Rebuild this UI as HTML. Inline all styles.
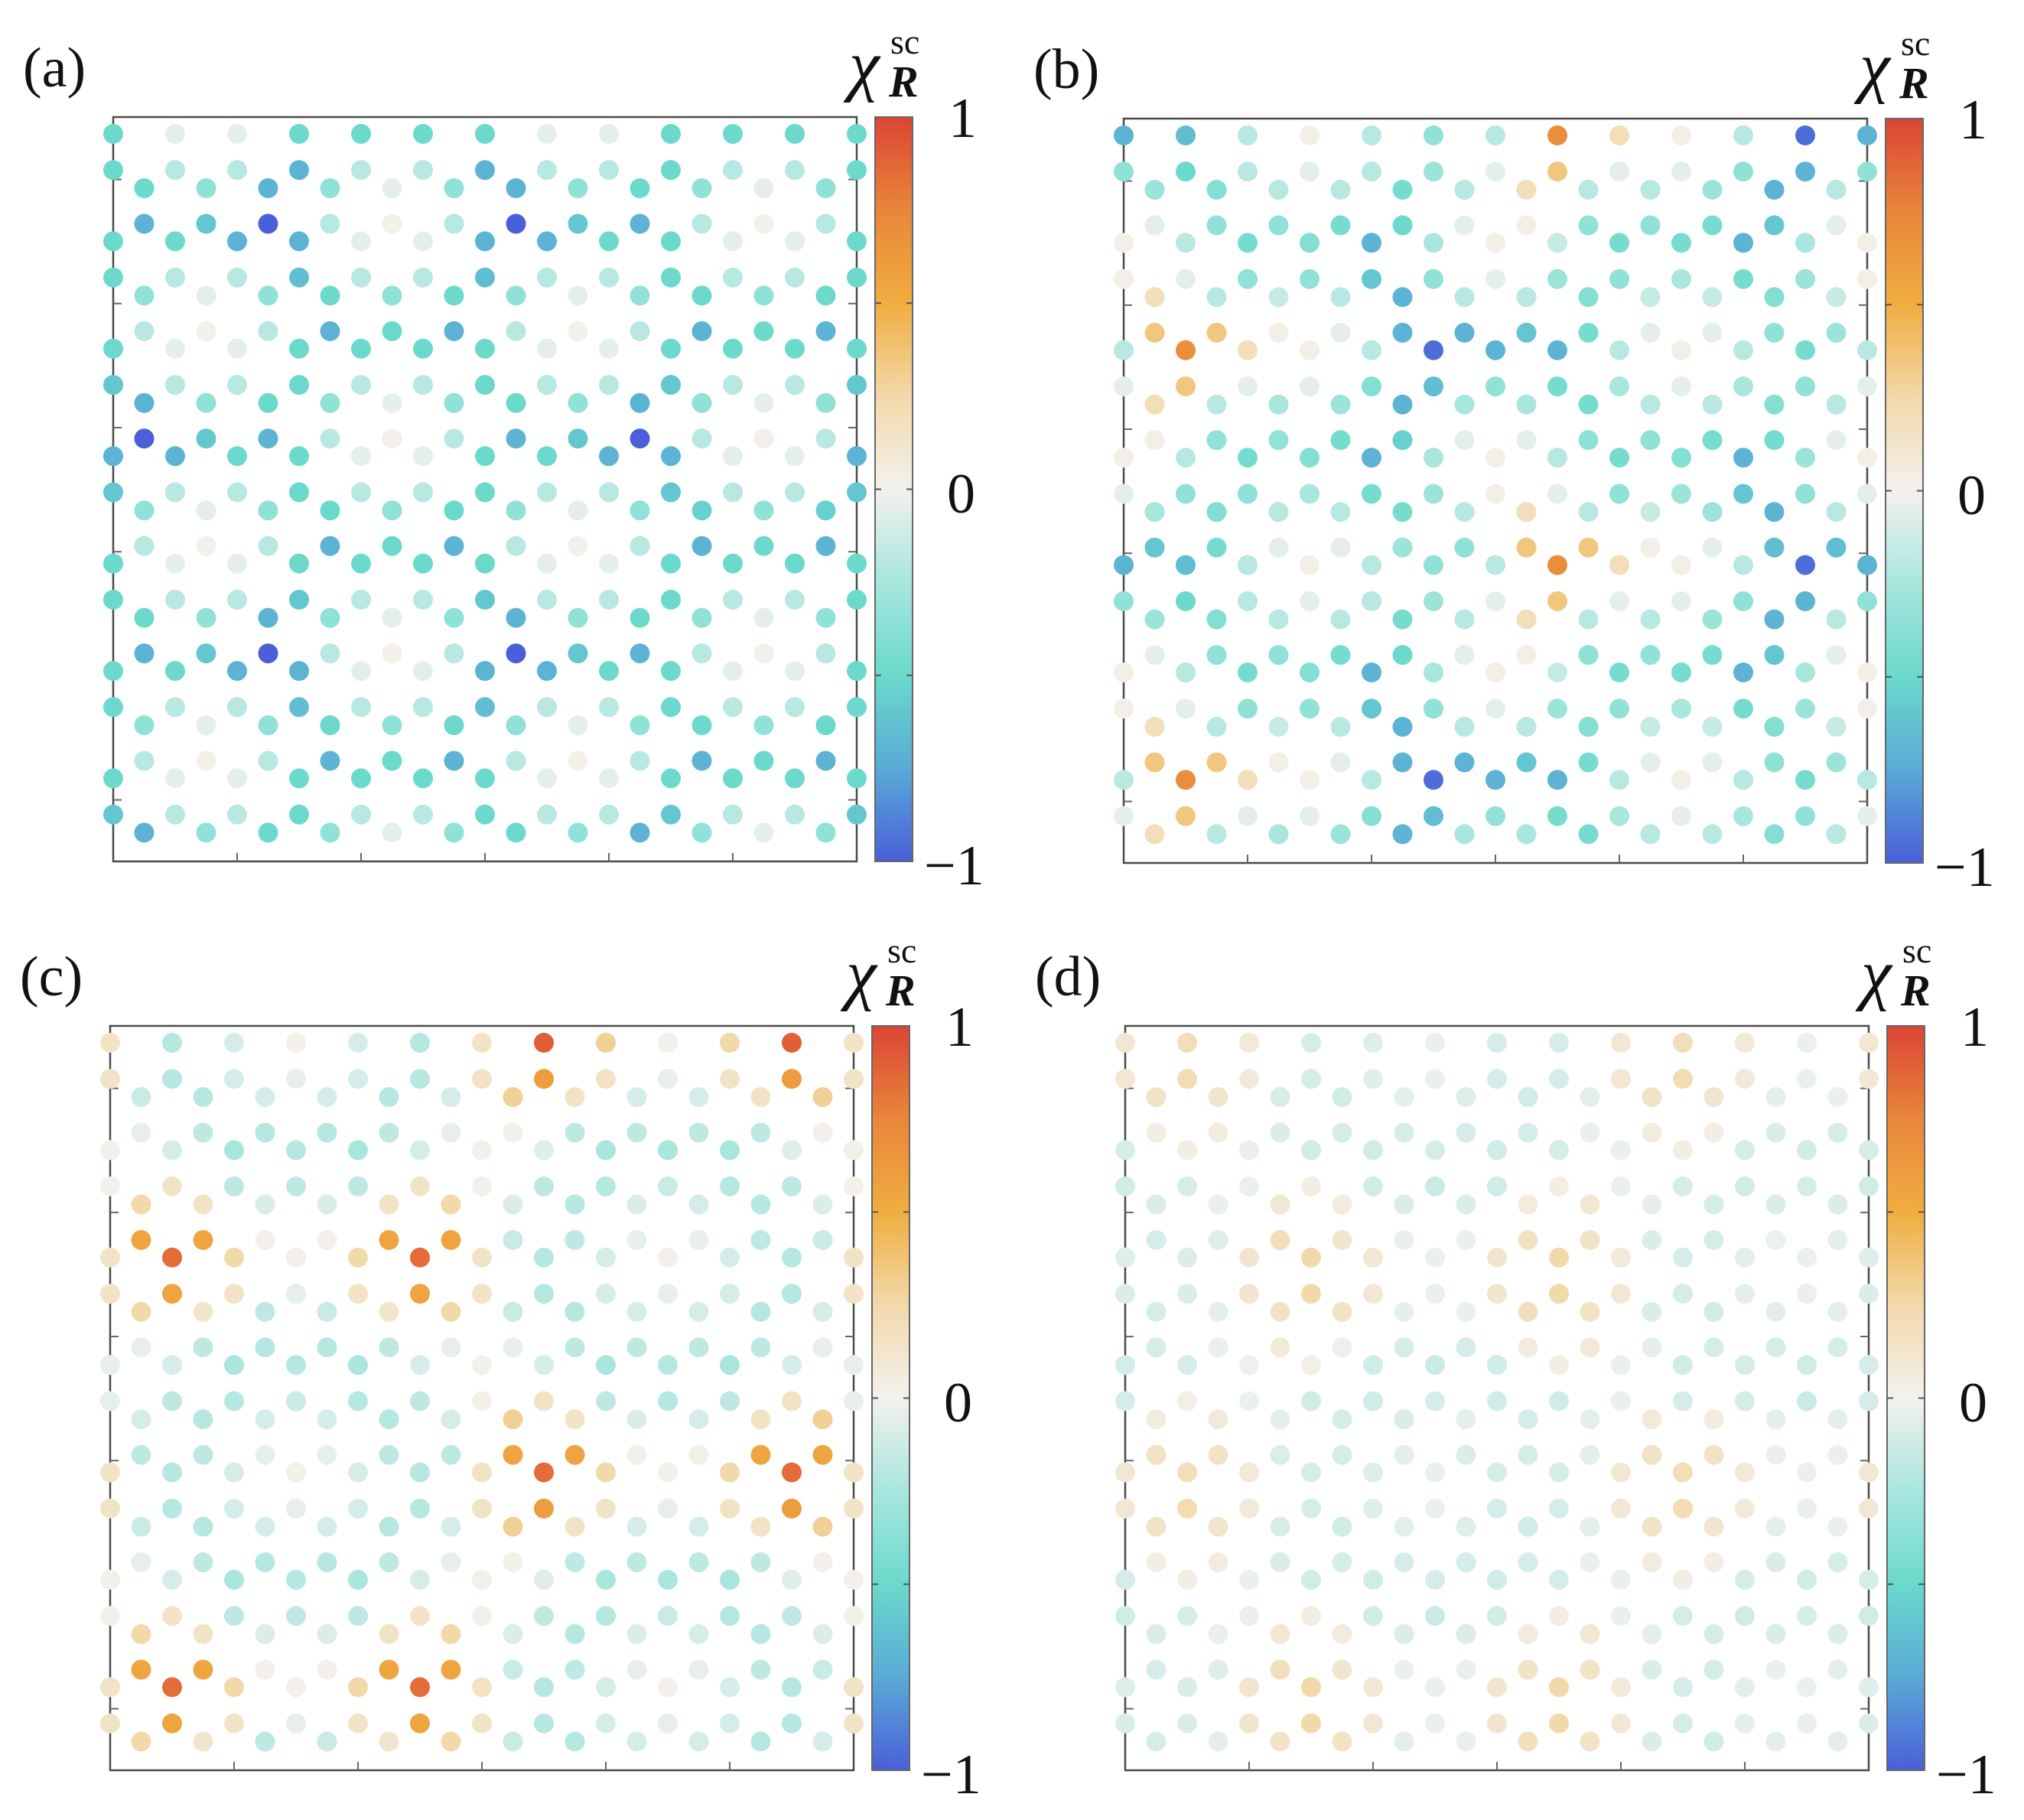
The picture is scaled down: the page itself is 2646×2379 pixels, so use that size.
<!DOCTYPE html>
<html><head><meta charset="utf-8"><style>
html,body{margin:0;padding:0;background:#fff}
svg{display:block}
text{font-family:"Liberation Serif",serif;fill:#111}
</style></head><body>
<svg id="fig" xmlns="http://www.w3.org/2000/svg" width="2646" height="2379" viewBox="0 0 2646 2379">
<defs>
<linearGradient id="cmap" x1="0" y1="1" x2="0" y2="0">
<stop offset="0" stop-color="#4a5fd9"/><stop offset="0.125" stop-color="#5aaad6"/>
<stop offset="0.25" stop-color="#6bd9cc"/><stop offset="0.375" stop-color="#a8e6de"/>
<stop offset="0.5" stop-color="#f3f1ee"/><stop offset="0.625" stop-color="#f2d9aa"/>
<stop offset="0.75" stop-color="#f0ad40"/><stop offset="0.875" stop-color="#e8863a"/>
<stop offset="1" stop-color="#dc4535"/>
</linearGradient>
</defs>
<g id="layer"></g>
</svg>
<script>
const panelLabels = ["(a)","(b)","(c)","(d)"];
const colorbarTicks = ["1","0","\u22121"];
const A = [
[-.5,-.05,-.05,-.5,-.5,-.5,-.5,-.05,-.05,-.5,-.5,-.5,-.5],
[-.5,-.2,-.2,-.7,-.2,-.2,-.7,-.2,-.2,-.5,-.2,-.2,-.5],
[-.5,-.35,-.7,-.35,-.05,-.35,-.7,-.35,-.5,-.35,-.05,-.35],
[-.7,-.6,-1,-.2,.02,-.2,-1,-.6,-.7,-.2,.02,-.2],
[-.5,-.5,-.7,-.7,-.05,-.05,-.7,-.7,-.5,-.5,-.05,-.05,-.5],
[-.5,-.2,-.2,-.65,-.2,-.2,-.65,-.2,-.2,-.5,-.2,-.2,-.5],
[-.35,-.05,-.35,-.5,-.35,-.5,-.35,-.05,-.35,-.5,-.35,-.5],
[-.2,.02,-.2,-.7,-.5,-.7,-.2,.02,-.2,-.7,-.5,-.7],
[-.5,-.05,-.05,-.5,-.5,-.5,-.5,-.05,-.05,-.5,-.5,-.5,-.5],
[-.6,-.2,-.2,-.5,-.2,-.2,-.5,-.2,-.2,-.6,-.2,-.2,-.6],
[-.7,-.35,-.5,-.35,-.05,-.35,-.5,-.35,-.7,-.35,-.05,-.35],
[-1,-.6,-.7,-.2,.02,-.2,-.7,-.6,-1,-.2,.02,-.2],
[-.7,-.7,-.5,-.5,-.05,-.05,-.5,-.5,-.7,-.7,-.05,-.05,-.7],
[-.6,-.2,-.2,-.5,-.2,-.2,-.5,-.2,-.2,-.6,-.2,-.2,-.6],
[-.35,-.05,-.35,-.5,-.35,-.5,-.35,-.05,-.35,-.55,-.35,-.55],
[-.2,.02,-.2,-.7,-.5,-.7,-.2,.02,-.2,-.7,-.5,-.7],
[-.5,-.05,-.05,-.5,-.5,-.5,-.5,-.05,-.05,-.5,-.5,-.5,-.5],
[-.5,-.2,-.2,-.6,-.2,-.2,-.6,-.2,-.2,-.5,-.2,-.2,-.5],
[-.5,-.35,-.7,-.35,-.05,-.35,-.7,-.35,-.5,-.35,-.05,-.35],
[-.7,-.6,-1,-.2,.02,-.2,-1,-.6,-.7,-.2,.02,-.2],
[-.5,-.5,-.7,-.7,-.05,-.05,-.7,-.7,-.5,-.5,-.05,-.05,-.5],
[-.5,-.2,-.2,-.65,-.2,-.2,-.65,-.2,-.2,-.5,-.2,-.2,-.5],
[-.35,-.05,-.35,-.5,-.35,-.5,-.35,-.05,-.35,-.5,-.35,-.5],
[-.2,.02,-.2,-.7,-.5,-.7,-.2,.02,-.2,-.7,-.5,-.7],
[-.5,-.05,-.05,-.5,-.5,-.5,-.5,-.05,-.05,-.5,-.5,-.5,-.5],
[-.6,-.2,-.2,-.5,-.2,-.2,-.5,-.2,-.2,-.6,-.2,-.2,-.6],
[-.7,-.35,-.5,-.35,-.05,-.35,-.5,-.35,-.7,-.35,-.05,-.35]
];
const B = [
[-.7,-.65,-.2,.03,-.2,-.35,-.2,.7,.2,.03,-.2,-.95,-.7],
[-.35,-.5,-.2,-.05,-.2,-.3,-.05,.35,-.05,-.05,-.35,-.7,-.35],
[-.3,-.4,-.2,-.2,-.45,-.2,.2,-.2,-.2,-.3,-.7,-.2],
[-.05,-.35,-.35,-.45,-.5,-.05,.03,-.35,-.35,-.45,-.6,-.05],
[.03,-.2,-.45,-.4,-.7,-.25,.03,-.15,-.45,-.45,-.7,-.25,.03],
[.03,-.05,-.35,-.35,-.6,-.35,-.05,-.3,-.35,-.25,-.45,-.3,.03],
[.2,-.2,-.15,-.2,-.7,-.2,-.2,-.4,-.15,-.15,-.4,-.15],
[.35,.35,.03,-.05,-.7,-.7,-.6,-.45,-.05,-.05,-.35,-.3],
[-.2,.7,.2,.03,-.2,-.95,-.7,-.7,-.2,.03,-.2,-.45,-.2],
[-.05,.35,-.05,-.05,-.4,-.65,-.35,-.45,-.25,-.05,-.25,-.35,-.05],
[.2,-.2,-.25,-.3,-.7,-.25,-.25,-.45,-.2,-.2,-.4,-.2],
[.03,-.35,-.35,-.45,-.55,-.05,-.05,-.35,-.35,-.45,-.45,-.05],
[.03,-.2,-.45,-.4,-.7,-.25,.03,-.2,-.45,-.4,-.7,-.3,.03],
[-.05,-.35,-.35,-.25,-.45,-.3,.03,-.05,-.35,-.3,-.6,-.35,-.05],
[-.25,-.4,-.2,-.2,-.45,-.2,.2,-.2,-.15,-.3,-.7,-.2],
[-.6,-.45,-.05,-.05,-.3,-.35,.35,.35,.03,-.05,-.65,-.65],
[-.7,-.65,-.2,.03,-.2,-.35,-.2,.7,.2,.03,-.2,-.95,-.7],
[-.35,-.5,-.2,-.05,-.2,-.3,-.05,.35,-.05,-.05,-.35,-.7,-.35],
[-.3,-.4,-.2,-.2,-.45,-.2,.2,-.2,-.2,-.3,-.7,-.2],
[-.05,-.35,-.35,-.45,-.5,-.05,.03,-.35,-.35,-.45,-.6,-.05],
[.03,-.2,-.45,-.4,-.7,-.25,.03,-.15,-.45,-.45,-.7,-.25,.03],
[.03,-.05,-.35,-.35,-.6,-.35,-.05,-.3,-.35,-.25,-.45,-.3,.03],
[.2,-.2,-.15,-.2,-.7,-.2,-.2,-.4,-.15,-.15,-.4,-.15],
[.35,.35,.03,-.05,-.7,-.7,-.6,-.45,-.05,-.05,-.35,-.3],
[-.2,.7,.2,.03,-.2,-.95,-.7,-.7,-.2,.03,-.2,-.45,-.2],
[-.05,.35,-.05,-.05,-.4,-.65,-.35,-.45,-.25,-.05,-.25,-.35,-.05],
[.2,-.2,-.25,-.3,-.7,-.25,-.25,-.45,-.2,-.2,-.4,-.2]
];
const C = [
[.15,-.21,-.1,.02,-.1,-.21,.15,.9,.3,.02,.25,.9,.15],
[.15,-.21,-.1,-.04,-.1,-.21,.15,.6,.15,-.04,.15,.6,.15],
[-.14,-.21,-.1,-.1,-.21,-.1,.3,.15,-.1,-.1,.15,.3],
[-.04,-.18,-.21,-.21,-.18,-.04,.02,-.18,-.18,-.18,-.18,.02],
[.02,-.1,-.25,-.21,-.25,-.1,.02,-.07,-.25,-.25,-.25,-.07,.02],
[.02,.15,-.18,-.18,-.18,.15,.02,-.18,-.21,-.14,-.21,-.18,.02],
[.25,.15,-.08,-.08,.15,.25,-.08,-.21,-.08,-.1,-.21,-.08],
[.55,.55,.02,.02,.55,.55,-.14,-.18,-.04,-.04,-.18,-.14],
[.15,.85,.25,.02,.25,.85,.15,-.21,-.1,.02,-.1,-.21,.15],
[.15,.55,.15,-.04,.15,.55,.15,-.21,-.1,-.04,-.1,-.21,.15],
[.25,.12,-.18,-.14,.12,.25,-.14,-.21,-.1,-.1,-.21,-.1],
[-.04,-.18,-.21,-.21,-.18,-.04,-.04,-.18,-.18,-.18,-.18,-.04],
[-.04,-.1,-.25,-.21,-.25,-.1,.02,-.1,-.25,-.21,-.25,-.1,-.04],
[-.04,-.18,-.21,-.14,-.21,-.18,.02,.15,-.18,-.21,-.18,.15,-.04],
[-.1,-.21,-.1,-.1,-.21,-.1,.3,.15,-.08,-.1,.15,.3],
[-.18,-.18,-.04,-.04,-.18,-.18,.55,.55,.02,.02,.55,.55],
[.15,-.21,-.1,.02,-.1,-.21,.15,.85,.25,.02,.25,.85,.15],
[.15,-.21,-.1,-.04,-.1,-.21,.15,.6,.15,-.04,.15,.6,.15],
[-.14,-.21,-.1,-.1,-.21,-.1,.3,.15,-.1,-.1,.15,.3],
[-.04,-.18,-.21,-.21,-.18,-.04,.02,-.18,-.18,-.18,-.18,.02],
[.02,-.1,-.25,-.21,-.25,-.1,.02,-.07,-.25,-.25,-.25,-.07,.02],
[.02,.15,-.18,-.18,-.18,.15,.02,-.18,-.21,-.14,-.21,-.18,.02],
[.25,.15,-.08,-.08,.15,.25,-.08,-.21,-.08,-.1,-.21,-.08],
[.55,.55,.02,.02,.55,.55,-.14,-.18,-.04,-.04,-.18,-.14],
[.15,.85,.25,.02,.25,.85,.15,-.21,-.1,.02,-.1,-.21,.15],
[.15,.55,.15,-.04,.15,.55,.15,-.21,-.1,-.04,-.1,-.21,.15],
[.25,.12,-.18,-.14,.12,.25,-.14,-.21,-.1,-.1,-.21,-.1]
];
const D = [
[.1,.2,.08,-.1,-.07,-.03,-.1,-.1,.1,.2,.08,-.03,.1],
[.1,.22,.08,-.1,-.07,-.03,-.1,-.1,.1,.22,.08,-.03,.1],
[.15,.12,-.1,-.12,-.05,-.07,-.12,-.05,.15,.12,-.05,-.03],
[.04,.06,-.08,-.1,-.1,-.1,-.1,-.03,.06,.04,-.08,-.1],
[-.1,.04,-.03,-.12,-.12,-.1,-.12,-.1,-.03,.04,-.1,-.12,-.1],
[-.12,-.1,-.03,.04,-.12,-.14,-.12,.04,-.03,-.1,-.12,-.1,-.12],
[-.08,-.03,.1,.06,-.08,-.08,.06,.1,-.05,-.1,-.08,-.08],
[-.1,-.07,.2,.12,-.03,-.03,.15,.15,-.08,-.1,-.03,-.05],
[-.07,-.08,.12,.25,.1,-.03,.12,.25,.08,-.1,-.05,-.03,-.07],
[-.08,-.08,.12,.25,.1,-.03,.12,.25,.1,-.1,-.05,-.03,-.08],
[-.1,-.05,.15,.15,-.05,-.03,.18,.15,-.08,-.12,-.05,-.05],
[-.1,-.03,.08,-.02,-.1,-.1,.06,.08,-.05,-.1,-.1,-.1],
[-.1,-.1,-.02,.03,-.12,-.14,-.12,.04,-.03,-.12,-.1,-.12,-.1],
[-.1,.03,-.03,-.12,-.12,-.1,-.12,-.12,-.03,-.1,-.1,-.14,-.1],
[.06,.08,-.05,-.1,-.08,-.05,-.1,-.05,.08,.06,-.05,-.05],
[.15,.15,-.08,-.1,-.05,-.08,-.1,-.05,.15,.15,-.03,-.03],
[.1,.2,.08,-.1,-.07,-.03,-.1,-.1,.1,.2,.08,-.03,.1],
[.1,.22,.08,-.1,-.07,-.03,-.1,-.1,.1,.22,.08,-.03,.1],
[.15,.12,-.1,-.12,-.05,-.07,-.12,-.05,.15,.12,-.05,-.03],
[.04,.06,-.08,-.1,-.1,-.1,-.1,-.03,.06,.04,-.08,-.1],
[-.1,.04,-.03,-.12,-.12,-.1,-.12,-.1,-.03,.04,-.1,-.12,-.1],
[-.12,-.1,-.03,.04,-.12,-.14,-.12,.04,-.03,-.1,-.12,-.1,-.12],
[-.08,-.03,.1,.06,-.08,-.08,.06,.1,-.05,-.1,-.08,-.08],
[-.1,-.07,.2,.12,-.03,-.03,.15,.15,-.08,-.1,-.03,-.05],
[-.07,-.08,.12,.25,.1,-.03,.12,.25,.08,-.1,-.05,-.03,-.07],
[-.08,-.08,.12,.25,.1,-.03,.12,.25,.1,-.1,-.05,-.03,-.08],
[-.1,-.05,.15,.15,-.05,-.03,.18,.15,-.08,-.12,-.05,-.05]
];
const panelData = [A,B,C,D];

const NS = "http://www.w3.org/2000/svg";
const layer = document.getElementById("layer");
const panels = [{L:148,T:153,id:"a"},{L:1469,T:155,id:"b"},{L:144,T:1341,id:"c"},{L:1471,T:1341,id:"d"}];
const W = 972, H = 973;
const stops = [[-1,[74,95,217]],[-.75,[90,170,214]],[-.5,[107,217,204]],[-.25,[168,230,222]],[0,[243,241,238]],[.25,[242,217,170]],[.5,[240,173,64]],[.75,[232,134,58]],[1,[220,69,53]]];
function cmap(v){
  v=Math.max(-1,Math.min(1,v));
  for(let i=0;i<stops.length-1;i++){
    const a=stops[i],b=stops[i+1];
    if(v<=b[0]){const t=(v-a[0])/(b[0]-a[0]);
      const c=a[1].map((x,k)=>Math.round(x+(b[1][k]-x)*t));
      return `rgb(${c[0]},${c[1]},${c[2]})`;}
  }
  return "rgb(220,69,53)";
}
const rowOff=[0,47.3,71,117.5];
function yScale(T,i){return T+22+Math.floor(i/4)*140.4+rowOff[i%4];}
function xScale(L,c){return L+c*W/24;}
function mk(tag,attrs,parent){const e=document.createElementNS(NS,tag);for(const k in attrs)e.setAttribute(k,attrs[k]);(parent||layer).appendChild(e);return e;}

panels.forEach((p,pi)=>{
  const g=mk("g",{});
  
  
  const L=p.L,T=p.T;
  const fr=mk("rect",{x:L,y:T,width:W,height:H,fill:"none",stroke:"#4a4a4a","stroke-width":2.5},g);
  
  
  for(let k=1;k<=5;k++){
    const tx=L+k*162;
    const t1=mk("line",{x1:tx,y1:T+H,x2:tx,y2:T+H-11,stroke:"#666","stroke-width":2},g);
    
    
  }
  for(let k=0;k<6;k++){
    const ty=T+81.6+k*162.2;
    const t2=mk("line",{x1:L,y1:ty,x2:L+11,y2:ty,stroke:"#666","stroke-width":2},g);
    
    
    const t3=mk("line",{x1:L+W,y1:ty,x2:L+W-11,y2:ty,stroke:"#666","stroke-width":2},g);
    
    
  }
  const rows=panelData[pi];
  rows.forEach((row,i)=>{
    const odd=(i%4)>=2;
    row.forEach((v,j)=>{
      const c=odd?2*j+1:2*j;
      const d=mk("circle",{cx:xScale(L,c),cy:yScale(T,i),r:13,fill:cmap(v)},g);
      
      
    });
  });
  const cbx=L+996;
  const cb=mk("rect",{x:cbx,y:T,width:49,height:H,fill:"url(#cmap)",stroke:"#666","stroke-width":2},g);
  
  
  [0.25,0.5,0.75].forEach(f=>{
    const yy=T+H*f;
    const a=mk("line",{x1:cbx,y1:yy,x2:cbx+8,y2:yy,stroke:"#555","stroke-width":2},g);
    
    
    const b=mk("line",{x1:cbx+49,y1:yy,x2:cbx+41,y2:yy,stroke:"#555","stroke-width":2},g);
    
    
  });
  const tpos=[[L+1092,T+26],[L+1090,T+517],[L+1060,T+1003]];
  colorbarTicks.forEach((s,k)=>{
    const t=mk("text",{x:tpos[k][0],y:tpos[k][1],"font-size":74},g);
    t.textContent=s;
    
    
  });
  const lab=mk("text",{x:L-118,y:T-40,"font-size":74},g);
  lab.textContent=panelLabels[pi];
  
  
  const chi=mk("text",{x:L+962,y:T-38,"font-size":90,"font-style":"italic"},g);
  chi.textContent="\u03c7";
  
  
  const sc=mk("text",{x:L+1016,y:T-83,"font-size":46},g);
  sc.textContent="sc";
  
  
  const R=mk("text",{x:L+1014,y:T-27,"font-size":58,"font-style":"italic","font-weight":"bold"},g);
  R.textContent="R";
  
  
});
</script>
</body></html>
